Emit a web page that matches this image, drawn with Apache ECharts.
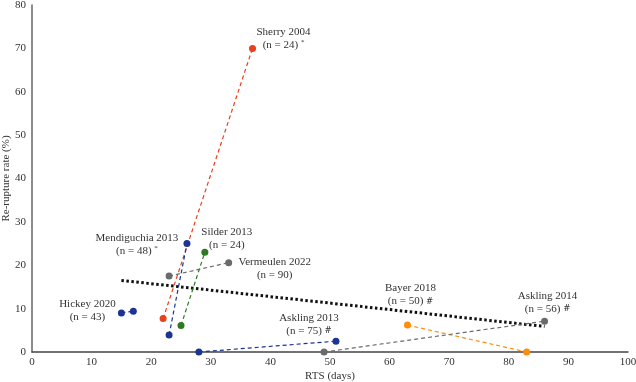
<!DOCTYPE html>
<html><head><meta charset="utf-8">
<script src="https://cdn.jsdelivr.net/npm/echarts@6/dist/echarts.min.js"></script>
<style>html,body{margin:0;padding:0;background:#fff}#c{width:636px;height:382px}</style>
</head><body><div id="c"></div>
<script>
// data: [RTS days, re-rupture %]
const studies = ["Sherry 2004","Mendiguchia 2013","Silder 2013","Vermeulen 2022","Hickey 2020","Askling 2013","Bayer 2018","Askling 2014"];
const nLabels = ["(n = 24) {s|*}","(n = 48) {s|*}","(n = 24)","(n = 90)","(n = 43)","(n = 75) {h|#}","(n = 50) {h|#}","(n = 56) {h|#}"];
const sherry = [[22, 7.7],[37, 70]];
const mendiguchia = [[23, 3.9],[26, 25]];
const silder = [[25, 6.1],[29, 23]];
const vermeulen = [[23, 17.5],[33, 20.6]];
const hickey = [[15, 9],[17, 9.4]];
const askling2013 = [[28, 0],[51, 2.5]];
const bayer = [[63, 6.2],[83, 0]];
const askling2014 = [[49, 0],[86, 7.1]];
const trend = [[15, 16.5],[86, 5.9]];
const xTicks = [0,10,20,30,40,50,60,70,80,90,100];
const yTicks = [0,10,20,30,40,50,60,70,80];

const seriesData = [sherry, mendiguchia, silder, vermeulen, hickey, askling2013, bayer, askling2014];
const colors = ['#e8401c','#1c3494','#2c7a22','#6b6b6b','#1c3494','#1c3494','#ff8c0a','#6b6b6b'];
const labelIdx = [1,1,1,1,0,1,0,1];
const labelOff = [[31,-10],[-50,1],[22,-14],[46,6],[-34,-2],[-27,-17],[3,-30],[3,-19]];
const font = 'Liberation Serif';

const series = seriesData.map((d, i) => ({
  type: 'line',
  name: studies[i],
  data: d.map((p, j) => {
    const item = { value: p };
    if (j === labelIdx[i]) {
      item.label = {
        show: true, position: 'inside', offset: labelOff[i],
        formatter: studies[i] + '\n' + nLabels[i],
        color: '#333', fontFamily: font, fontSize: 11, lineHeight: 13, align: 'center',
        rich: {
          s: { fontSize: 7, verticalAlign: 'top', color: '#333', fontFamily: font, lineHeight: 13 },
          h: { fontSize: 8.5, color: '#333', fontFamily: 'DejaVu Serif', lineHeight: 13 }
        }
      };
    }
    return item;
  }),
  symbol: 'circle', symbolSize: 7,
  itemStyle: { color: colors[i] },
  lineStyle: { color: colors[i], type: [4, 3], width: 1.2 },
  z: 3, animation: false
}));
series.unshift({
  type: 'line', data: trend, symbol: 'none',
  lineStyle: { color: '#111', type: [2.5, 2.5], width: 3, cap: 'butt' },
  z: 2, animation: false
});

const chart = echarts.init(document.getElementById('c'));
chart.setOption({
  animation: false,
  grid: { left: 32, right: 8, top: 5, bottom: 30, containLabel: false, outerBoundsMode: 'none' },
  xAxis: {
    type: 'value', min: 0, max: 100, interval: 10,
    name: 'RTS (days)', nameLocation: 'middle', nameGap: 19, nameMoveOverlap: false,
    nameTextStyle: { fontFamily: font, fontSize: 11, color: '#333' },
    axisLine: { lineStyle: { color: '#444', width: 1.5 } },
    axisTick: { show: false }, splitLine: { show: false },
    axisLabel: { fontFamily: font, fontSize: 11, color: '#333', margin: 5, formatter: v => xTicks.includes(v) ? String(v) : '' }
  },
  yAxis: {
    type: 'value', min: 0, max: 80, interval: 10,
    name: 'Re-rupture rate (%)', nameLocation: 'middle', nameGap: 20, nameMoveOverlap: false,
    nameTextStyle: { fontFamily: font, fontSize: 11, color: '#333' },
    axisLine: { show: true, lineStyle: { color: '#666', width: 1.5 } },
    axisTick: { show: false }, splitLine: { show: false },
    axisLabel: { fontFamily: font, fontSize: 11, color: '#333', margin: 6, formatter: v => yTicks.includes(v) ? String(v) : '' }
  },
  series: series
});
</script></body></html>
